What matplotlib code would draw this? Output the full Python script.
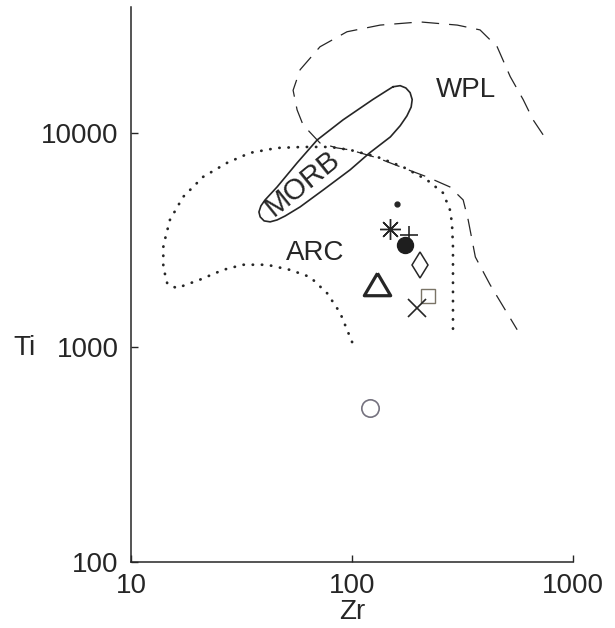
import matplotlib
matplotlib.use("Agg")
import matplotlib.pyplot as plt

plt.rcParams['font.family'] = ['Liberation Sans', 'DejaVu Sans']

wpl_zr = [731, 659, 594, 519, 453, 379, 299, 203, 134, 94.8, 71.6, 58.2, 54.1,
          56.4, 60.0, 71.6, 85.5, 98, 130, 170, 218, 277, 318, 335, 361, 421, 558]
wpl_ti = [9800, 11500, 14300, 18300, 25200, 30200, 31800, 32900, 31800, 29600,
          25200, 19700, 15800, 12800, 10900, 8970, 8510, 8330, 7650, 6870, 6240,
          5600, 4870, 3930, 2640, 1960, 1210]

arc_zr = [100, 88.3, 77.1, 64.6, 52.4, 41.2, 32.1, 26.1, 20.5, 16.1, 14.6, 14.0,
          14.0, 14.3, 15.0, 17.2, 21.2, 27.2, 34.5, 45.8, 60.0, 79.4, 98, 130,
          170, 218, 258, 277, 283, 286, 286, 286]
arc_ti = [1060, 1450, 1790, 2130, 2300, 2430, 2430, 2300, 2070, 1890, 1980, 2370,
          2940, 3240, 3930, 5030, 6240, 7250, 8070, 8510, 8600, 8600, 8330, 7730,
          6940, 6040, 5250, 4380, 3800, 2940, 2070, 1210]

morb_zr = [153, 165, 175, 183, 187, 185, 177, 165, 149, 120, 98, 74.0, 58.2, 49.8,
           45.8, 42.6, 40.0, 38.4, 37.9, 38.7, 40.4, 45.8, 56.4, 69.5, 91.0, 124,
           143, 153]
morb_ti = [16400, 16600, 16200, 15400, 14300, 13200, 12000, 10800, 9580, 8070,
           6730, 5420, 4520, 4100, 3930, 3850, 3890, 4060, 4280, 4570, 4870, 5600,
           7250, 9270, 11500, 14300, 15700, 16400]

# amostras
amostra_zr = [160, 149, 181, 174, 203, 130, 221, 196, 121]
amostra_ti = [4670, 3560, 3340, 3010, 2430, 1970, 1740, 1520, 521]

fig = plt.figure(figsize=(6.15, 6.28), dpi=100)
ax = fig.add_axes([0.213, 0.105, 0.719, 0.884])
ax.set_xscale('log')
ax.set_yscale('log')
ax.set_xlim(10, 1000)
ax.set_ylim(100, 38650)

cor = '#262626'

# campos
ax.plot(wpl_zr, wpl_ti, color=cor, lw=0.9, linestyle=(0, (14, 8)))
ax.plot(arc_zr, arc_ti, color=cor, lw=2.0, linestyle=(0, (0.1, 3.2)),
        dash_capstyle='round')
ax.plot(morb_zr, morb_ti, color=cor, lw=1.2, solid_joinstyle='round')

# simbolos de cada amostra
estilos = [
    dict(marker='o', ms=3.5, mfc=cor, mec=cor),
    dict(marker=(8, 2, 0), ms=15, mec=cor, mew=1.0),
    dict(marker='+', ms=12.5, mec=cor, mew=1.2),
    dict(marker='o', ms=11.5, mfc='#1e1e1e', mec='#1e1e1e'),
    dict(marker='d', ms=13.5, mfc='none', mec=cor, mew=1.1),
    dict(marker=[(0, 0.85), (-1, -0.85), (1, -0.85), (0, 0.85)], ms=19,
         mfc='none', mec=cor, mew=2.3),
    dict(marker='s', ms=10.5, mfc='none', mec='#7a7466', mew=1.0),
    dict(marker='x', ms=13, mec=cor, mew=1.2),
    dict(marker='o', ms=12.5, mfc='none', mec='#75727f', mew=1.2),
]
for zr, ti, st in zip(amostra_zr, amostra_ti, estilos):
    ax.plot([zr], [ti], linestyle='none', **st)

# rotulos dos campos
ax.text(328, 15800, 'WPL', fontsize=20, color=cor, ha='center', va='center')
ax.text(68.1, 2760, 'ARC', fontsize=20, color=cor, ha='center', va='center')
ax.text(59.4, 5850, 'MORB', fontsize=21, color=cor, ha='center', va='center',
        rotation=39, rotation_mode='anchor')

# eixos
for lado in ['top', 'right']:
    ax.spines[lado].set_visible(False)
for lado in ['left', 'bottom']:
    ax.spines[lado].set_linewidth(1.1)
    ax.spines[lado].set_color(cor)

ax.set_xticks([10, 100, 1000])
ax.set_xticklabels(['10', '100', '1000'])
ax.set_yticks([100, 1000, 10000])
ax.set_yticklabels(['100', '1000', '10000'])
ax.minorticks_off()
ax.tick_params(direction='in', length=5, width=1.0, color=cor, labelsize=20,
               labelcolor=cor)
ax.tick_params(axis='y', pad=9)
ax.tick_params(axis='x', pad=8)

ax.set_xlabel('Zr', fontsize=20, color=cor, labelpad=0)
ax.set_ylabel('Ti', fontsize=20, color=cor, rotation=0, va='center', ha='center')
ax.yaxis.set_label_coords(-0.240, 0.386)

fig.savefig('out.png', dpi=100)
